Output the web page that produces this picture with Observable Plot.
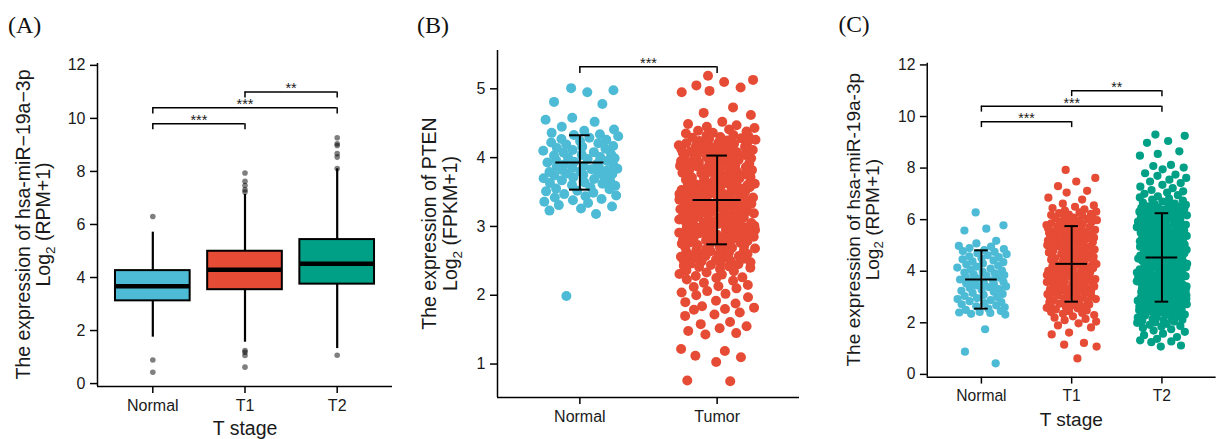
<!DOCTYPE html>
<html>
<head>
<meta charset="utf-8">
<script src="https://cdn.jsdelivr.net/npm/d3@7"></script>
<script src="https://cdn.jsdelivr.net/npm/@observablehq/plot@0.6"></script>
<style>
  html, body { margin: 0; padding: 0; background: #fff; }
  #root { position: relative; width: 1221px; height: 439px; overflow: hidden; background: #fff; }
  .panel { position: absolute; top: 0; }
</style>
</head>
<body>
<div id="root">
  <div class="panel" id="pA" style="left:0px"></div>
  <div class="panel" id="pB" style="left:400px"></div>
  <div class="panel" id="pC" style="left:810px"></div>
</div>
<script>
// ---------------- data ----------------
const stageCats = ["Normal", "T1", "T2"];
const ptenCats = ["Normal", "Tumor"];

// Panel A: boxplot summaries
const boxQ1 = [3.12, 3.54, 3.75];
const boxMedian = [3.67, 4.29, 4.52];
const boxQ3 = [4.26, 4.99, 5.43];
const whiskerLow = [1.75, 1.56, 1.32];
const whiskerHigh = [5.71, 7.13, 8.10];
const outliersNormal = [6.30, 0.89, 0.43];
const outliersT1 = [7.94, 7.63, 7.47, 7.31, 7.22, 1.25, 1.18, 1.06, 0.62];
const outliersT2 = [9.27, 9.04, 8.98, 8.67, 8.54, 8.11, 1.07];

// Significance brackets (panels A and C)
const stageBracketFrom = ["Normal", "Normal", "T1"];
const stageBracketTo = ["T1", "T2", "T2"];
const stageBracketY = [9.8, 10.4, 11.0];
const stageBracketLabel = ["***", "***", "**"];
// Panel B bracket
const ptenBracketFrom = ["Normal"];
const ptenBracketTo = ["Tumor"];
const ptenBracketY = [5.32];
const ptenBracketLabel = ["***"];

// Panel B: mean ± sd
const ptenMean = [3.93, 3.385];
const ptenSD = [0.395, 0.645];
// Panel C: mean ± sd
const stageMean = [3.68, 4.285, 4.535];
const stageSD = [1.13, 1.465, 1.715];

// Panel B points: PTEN log2(FPKM+1)
const ptenNormal = [5.01, 4.98, 4.95, 4.81, 4.78, 4.58, 4.55, 4.52, 4.45, 4.41, 4.39, 4.36, 4.34, 4.33, 4.31, 4.29, 4.27, 4.26, 4.24, 4.22, 4.21, 4.19, 4.17, 4.16, 4.14, 4.13, 4.11, 4.10, 4.08, 4.07, 4.05, 4.04, 4.03, 4.01, 4.00, 3.99, 3.98, 3.96, 3.95, 3.94, 3.93, 3.91, 3.90, 3.89, 3.88, 3.87, 3.86, 3.85, 3.84, 3.83, 3.82, 3.81, 3.80, 3.79, 3.78, 3.77, 3.76, 3.75, 3.74, 3.72, 3.71, 3.70, 3.69, 3.67, 3.66, 3.64, 3.63, 3.62, 3.60, 3.59, 3.57, 3.55, 3.54, 3.52, 3.51, 3.49, 3.47, 3.45, 3.44, 3.42, 3.40, 3.38, 3.36, 3.34, 3.31, 3.29, 3.26, 3.23, 3.18, 1.99];
const ptenTumor = [5.19, 5.13, 5.10, 5.05, 5.02, 4.97, 4.95, 4.73, 4.65, 4.62, 4.52, 4.49, 4.47, 4.45, 4.43, 4.41, 4.39, 4.38, 4.36, 4.35, 4.33, 4.32, 4.31, 4.30, 4.29, 4.28, 4.27, 4.26,
  4.25, 4.24, 4.22, 4.22, 4.21, 4.19, 4.18, 4.18, 4.16, 4.15, 4.13, 4.13, 4.12, 4.10, 4.09, 4.08, 4.08, 4.06, 4.05, 4.04, 4.02, 4.02, 4.01, 3.99, 3.98, 3.97, 3.97, 3.95, 3.94, 3.93, 3.92, 3.91, 3.90, 3.89, 3.88, 3.87, 3.86, 3.86, 3.84, 3.83, 3.82, 3.81, 3.80, 3.79, 3.78, 3.77, 3.77, 3.76, 3.74, 3.73, 3.72, 3.72, 3.71, 3.70, 3.68, 3.67, 3.67, 3.66, 3.65, 3.64, 3.63, 3.62, 3.61, 3.60, 3.60, 3.59, 3.58, 3.57, 3.56, 3.55, 3.54, 3.53, 3.53, 3.52, 3.51, 3.50, 3.49, 3.48, 3.47, 3.46, 3.46, 3.45, 3.44, 3.43, 3.42, 3.41, 3.40, 3.39, 3.39, 3.38, 3.37, 3.36, 3.35, 3.34, 3.33, 3.33, 3.32, 3.31, 3.30, 3.29, 3.28, 3.27, 3.26, 3.26, 3.25, 3.24, 3.23, 3.22, 3.21, 3.20, 3.20, 3.19, 3.18, 3.17, 3.16, 3.15, 3.14, 3.13, 3.13, 3.12, 3.11, 3.10, 3.09, 3.08, 3.07, 3.06, 3.06, 3.05, 3.04, 3.03, 3.02, 3.01, 3.00, 2.99, 2.99, 2.98, 2.97, 2.96, 2.95, 2.94, 2.93, 2.92, 2.91, 2.90, 2.89, 2.88, 2.87, 2.86, 2.85, 2.84, 2.83, 2.82, 2.81, 2.80, 2.78, 2.77, 2.76, 2.75, 2.74, 2.73, 2.72, 2.70, 2.69, 2.68, 2.67, 2.66, 2.65, 2.63, 2.62, 2.61, 2.60, 2.59, 2.57, 2.56, 2.55, 2.54, 2.52, 2.51, 2.50, 2.49, 2.47, 2.46, 2.45, 2.43, 2.42, 2.40,
  2.38, 2.36, 2.35, 2.33, 2.31, 2.30, 2.28, 2.26, 2.25, 2.23, 2.21, 2.18, 2.15, 2.13, 2.12, 2.10, 2.06, 2.04, 2.02, 2.00, 1.97, 1.92, 1.90, 1.88, 1.84, 1.82, 1.80, 1.79, 1.75, 1.72, 1.70, 1.61, 1.58, 1.55, 1.52, 1.48, 1.45, 1.43, 1.22, 1.19, 1.12, 1.10, 1.03, 0.76, 0.75,
  4.20, 4.17, 4.11, 4.07, 4.03, 3.96, 3.92, 3.88, 3.85, 3.81, 3.75, 3.71, 3.69, 3.64, 3.62, 3.58, 3.55, 3.50, 3.47, 3.44, 3.41, 3.38, 3.35, 3.32, 3.29, 3.25, 3.22, 3.19, 3.16, 3.12, 3.09, 3.05, 3.02, 2.98, 2.95, 2.91, 2.88, 2.85, 2.81, 2.79, 2.75, 2.71, 2.68, 2.64, 2.60, 2.57, 2.53, 2.48, 2.44, 2.41];

// Panel C points: hsa-miR-19a-3p log2(RPM+1)
const mirNormal = [6.28, 5.78, 5.65, 5.58, 5.18, 5.08, 4.98, 4.95, 4.90, 4.86, 4.82, 4.78, 4.75, 4.70, 4.66, 4.62, 4.58, 4.55, 4.50, 4.46, 4.42, 4.38, 4.35, 4.30, 4.27, 4.22, 4.18, 4.14, 4.10, 4.06, 4.02, 3.98, 3.95, 3.92, 3.88, 3.85, 3.82, 3.78, 3.75, 3.72, 3.68, 3.65, 3.62, 3.58, 3.55, 3.52, 3.48, 3.45, 3.41, 3.38, 3.35, 3.31, 3.28, 3.24, 3.20, 3.16, 3.12, 3.08, 3.04, 3.00, 2.96, 2.92, 2.88, 2.84, 2.80, 2.76, 2.72, 2.68, 2.64, 2.60, 2.55, 2.50, 2.46, 2.42, 2.40, 2.38, 2.35, 2.32, 1.75, 0.88, 0.43];
const mirT1 = [7.93, 7.62, 7.48, 7.30, 7.12, 7.05, 6.85, 6.78, 6.62, 6.55, 6.50, 6.45, 6.40, 6.35, 6.31, 6.28, 6.25, 6.22, 6.20,
  6.18, 6.15, 6.13, 6.10, 6.08, 6.05, 6.03, 6.00, 5.98, 5.96, 5.93, 5.91, 5.88, 5.86, 5.84, 5.81, 5.79, 5.77, 5.74, 5.72, 5.70, 5.67, 5.65, 5.63, 5.60, 5.58, 5.56, 5.53, 5.51, 5.49, 5.46, 5.44, 5.42, 5.40, 5.37, 5.35, 5.33, 5.30, 5.28, 5.26, 5.24, 5.21, 5.19, 5.17, 5.15, 5.12, 5.10, 5.08, 5.06, 5.03, 5.01, 4.99, 4.97, 4.95, 4.92, 4.90, 4.88, 4.86, 4.84, 4.81, 4.79, 4.77, 4.75, 4.73, 4.71, 4.68, 4.66, 4.64, 4.62, 4.60, 4.58, 4.56, 4.53, 4.51, 4.49, 4.47, 4.45, 4.43, 4.41, 4.39, 4.37, 4.35, 4.32, 4.30, 4.28, 4.26, 4.24, 4.22, 4.20, 4.18, 4.16, 4.14, 4.12, 4.10, 4.08, 4.06, 4.04, 4.01, 3.99, 3.97, 3.95, 3.93, 3.91, 3.89, 3.87, 3.85, 3.83, 3.81, 3.79, 3.77, 3.75, 3.73, 3.71, 3.69, 3.66, 3.64, 3.62, 3.60, 3.58, 3.56, 3.54, 3.52, 3.49, 3.47, 3.45, 3.43, 3.41, 3.38, 3.36, 3.34, 3.32, 3.30, 3.27, 3.25, 3.23, 3.20, 3.18, 3.16, 3.13, 3.11, 3.09, 3.06, 3.04, 3.01, 2.99, 2.97, 2.94, 2.92, 2.89, 2.87, 2.84, 2.82, 2.79, 2.77, 2.74, 2.71, 2.69, 2.66, 2.64, 2.61, 2.58, 2.56,
  2.52, 2.48, 2.45, 2.42, 2.38, 2.35, 2.30, 2.25, 2.20, 2.15, 2.10, 2.05, 1.98, 1.90, 1.82, 1.62, 1.55, 1.22, 1.15, 1.08, 0.62];
const mirT2 = [9.30, 9.25, 9.05, 8.98, 8.65, 8.55, 8.48, 8.12, 8.08, 8.02, 7.95, 7.80, 7.75, 7.70, 7.62, 7.55, 7.48, 7.42, 7.35, 7.28, 7.22, 7.15, 7.10, 7.05, 7.00, 6.95, 6.90, 6.86, 6.82, 6.78, 6.74, 6.70, 6.66, 6.62,
  6.60, 6.57, 6.55, 6.52, 6.50, 6.47, 6.45, 6.42, 6.40, 6.38, 6.35, 6.33, 6.31, 6.28, 6.26, 6.24, 6.21, 6.19, 6.17, 6.15, 6.12, 6.10, 6.08, 6.06, 6.03, 6.01, 5.99, 5.97, 5.95, 5.92, 5.90, 5.88, 5.86, 5.84, 5.82, 5.80, 5.77, 5.75, 5.73, 5.71, 5.69, 5.67, 5.65, 5.63, 5.61, 5.59, 5.57, 5.55, 5.53, 5.51, 5.49, 5.47, 5.45, 5.43, 5.41, 5.39, 5.37, 5.35, 5.33, 5.31, 5.29, 5.27, 5.25, 5.23, 5.21, 5.19, 5.17, 5.15, 5.13, 5.11, 5.09, 5.07, 5.05, 5.03, 5.01, 4.99, 4.97, 4.95, 4.93, 4.91, 4.89, 4.87, 4.85, 4.83, 4.81, 4.79, 4.77, 4.75, 4.73, 4.71, 4.69, 4.67, 4.65, 4.63, 4.61, 4.59, 4.57, 4.55, 4.53, 4.51, 4.49, 4.47, 4.45, 4.43, 4.41, 4.39, 4.37, 4.35, 4.33, 4.31, 4.29, 4.27, 4.25, 4.23, 4.21, 4.19, 4.17, 4.15, 4.13, 4.11, 4.09, 4.07, 4.05, 4.03, 4.01, 3.99, 3.97, 3.95, 3.93, 3.91, 3.89, 3.87, 3.85, 3.83, 3.81, 3.79, 3.77, 3.75, 3.73, 3.71, 3.69, 3.67, 3.65, 3.63, 3.61, 3.59, 3.57, 3.55, 3.53, 3.51, 3.49, 3.47, 3.45, 3.43, 3.41, 3.39, 3.37, 3.35, 3.33, 3.31, 3.29, 3.27, 3.25, 3.23, 3.21, 3.19, 3.17, 3.15, 3.13, 3.11, 3.09, 3.07, 3.05, 3.03, 3.01, 2.99, 2.97, 2.95, 2.93, 2.91, 2.89, 2.87, 2.85, 2.83, 2.81, 2.79, 2.76, 2.74, 2.72, 2.70, 2.68, 2.65, 2.63, 2.61, 2.58, 2.56, 2.54, 2.51, 2.49, 2.46, 2.44, 2.41, 2.39, 2.36, 2.34, 2.31, 2.28, 2.26, 2.23, 2.20,
  2.18, 2.15, 2.12, 2.10, 2.08, 2.05, 2.02, 2.00, 1.96, 1.92, 1.88, 1.85, 1.80, 1.75, 1.70, 1.65, 1.58, 1.52, 1.45, 1.38, 1.32, 1.28, 1.25, 1.12, 1.08,
  6.46, 6.37, 6.25, 6.18, 6.07, 5.98, 5.91, 5.81, 5.74, 5.64, 5.58, 5.48, 5.42, 5.32, 5.26, 5.16, 5.08, 5.02, 4.92, 4.86, 4.76, 4.70, 4.60, 4.54, 4.44, 4.36, 4.30, 4.20, 4.14, 4.04, 3.98, 3.88, 3.80, 3.74, 3.64, 3.58, 3.48, 3.42, 3.32, 3.24, 3.18, 3.08, 3.02, 2.92, 2.86, 2.78, 2.69, 2.62, 2.52, 2.43, 2.32];

// Text
const panelTags = ["(A)", "(B)", "(C)"];
const yTitleStage = ["The expression of hsa-miR\u221219a\u22123p", "The expression of PTEN", "The expression of hsa-miR-19a-3p"];
const yTitleUnit = [" (RPM+1)", " (FPKM+1)", " (RPM+1)"];
const xTitleStage = "T stage";

// ---------------- style ----------------
const stageColors = ["#4DBBD5", "#E64B35", "#00A087"];
const ptenColors = ["#4DBBD5", "#E64B35"];
const SANS = "'Liberation Sans', Arial, Helvetica, sans-serif";
const SERIF = "'Liberation Serif', 'Times New Roman', serif";
const INK = "#1a1a1a";
const JITTER = 0.28;
const BOX_HALF = 0.405;
const MEAN_HALF = 0.175;
const CAP_HALF = 0.075;

// deterministic horizontal jitter (presentation only): low-discrepancy by value rank, small perturbation
function jitterRows(values, i) {
  const order = d3.range(values.length).sort((a, b) => values[b] - values[a]);
  const rank = new Array(values.length);
  order.forEach((idx, r) => { rank[idx] = r; });
  return values.map((v, k) => {
    const r = rank[k];
    const h = Math.sin(r * 127.1 + i * 311.7 + 0.5) * 43758.5453;
    const u = ((r + 0.5) * 0.6180339887 + 0.08 * (h - Math.floor(h))) % 1;
    return {x: i + (u - 0.5) * 2 * JITTER, y: v};
  });
}

function bracketMarks(cats, from, to, ys, labels, drop) {
  const rows = ys.map((y, k) => ({a: cats.indexOf(from[k]), b: cats.indexOf(to[k]), y, label: labels[k]}));
  return [
    Plot.ruleY(rows, {x1: "a", x2: "b", y: "y", stroke: "#000", strokeWidth: 1.5}),
    Plot.ruleX(rows, {x: "a", y1: d => d.y - drop, y2: "y", stroke: "#000", strokeWidth: 1.5}),
    Plot.ruleX(rows, {x: "b", y1: d => d.y - drop, y2: "y", stroke: "#000", strokeWidth: 1.5}),
    Plot.text(rows, {x: d => (d.a + d.b) / 2, y: "y", text: "label", lineAnchor: "bottom", dy: 1.5, fontSize: 14.5, fill: INK, fontFamily: SANS})
  ];
}

function errorMarks(means, sds) {
  const rows = means.map((m, i) => ({i, m, s: sds[i]}));
  return [
    Plot.ruleX(rows, {x: "i", y1: d => d.m - d.s, y2: d => d.m + d.s, stroke: "#000", strokeWidth: 2}),
    Plot.ruleY(rows, {x1: d => d.i - MEAN_HALF, x2: d => d.i + MEAN_HALF, y: "m", stroke: "#000", strokeWidth: 2}),
    Plot.ruleY(rows, {x1: d => d.i - CAP_HALF, x2: d => d.i + CAP_HALF, y: d => d.m + d.s, stroke: "#000", strokeWidth: 2}),
    Plot.ruleY(rows, {x1: d => d.i - CAP_HALF, x2: d => d.i + CAP_HALF, y: d => d.m - d.s, stroke: "#000", strokeWidth: 2})
  ];
}

function basePlot({width, height, margins, cats, yDomain, yTicks, marks}) {
  const [mt, mr, mb, ml] = margins;
  return Plot.plot({
    width, height,
    marginTop: mt, marginRight: mr, marginBottom: mb, marginLeft: ml,
    x: {type: "linear", domain: [-0.6, cats.length - 0.4]},
    y: {type: "linear", domain: yDomain},
    color: {type: "identity"},
    style: {fontFamily: SANS, color: INK, background: "transparent", overflow: "visible"},
    marks: [
      ...marks,
      Plot.ruleX([-0.6], {stroke: "#000", strokeWidth: 1.5}),
      Plot.ruleY([yDomain[0]], {stroke: "#000", strokeWidth: 1.5}),
      Plot.axisX({ticks: cats.map((c, i) => i), tickFormat: i => cats[i], tickSize: 7, tickPadding: 6, fontSize: 16, strokeWidth: 1.5, stroke: "#000", fill: INK, label: null}),
      Plot.axisY({ticks: yTicks, tickFormat: d => String(d), tickSize: 7, tickPadding: 5, fontSize: 16, strokeWidth: 1.5, stroke: "#000", fill: INK, label: null})
    ]
  });
}

function decorate(svg, {tag, tagX, t1, t1x, t2unit, t2x, cy, xTitle, xTitleX}) {
  const s = d3.select(svg);
  s.append("text").attr("x", tagX).attr("y", 33).attr("text-anchor", "start")
    .attr("font-family", SERIF).attr("font-size", 24).attr("fill", "#111").text(tag);
  s.append("text").attr("transform", `translate(${t1x},${cy}) rotate(-90)`).attr("text-anchor", "middle")
    .attr("font-family", SANS).attr("font-size", 19.5).attr("fill", INK).text(t1);
  const t = s.append("text").attr("transform", `translate(${t2x},${cy}) rotate(-90)`).attr("text-anchor", "middle")
    .attr("font-family", SANS).attr("font-size", 19.5).attr("fill", INK);
  t.append("tspan").text("Log");
  t.append("tspan").attr("font-size", 13.5).attr("dy", 5).text("2");
  t.append("tspan").attr("dy", -5).text(t2unit);
  if (xTitle) {
    s.append("text").attr("x", xTitleX).attr("y", 435).attr("text-anchor", "middle")
      .attr("font-family", SANS).attr("font-size", 19.5).attr("fill", INK).text(xTitle);
  }
}

// ---------------- Panel A ----------------
const boxRows = stageCats.map((c, i) => ({i, q1: boxQ1[i], med: boxMedian[i], q3: boxQ3[i], lo: whiskerLow[i], hi: whiskerHigh[i], color: stageColors[i]}));
const outlierRows = [outliersNormal, outliersT1, outliersT2].flatMap((arr, i) => arr.map(v => ({i, v})));
const plotA = basePlot({
  width: 400, height: 439, margins: [63, 8, 53, 97], cats: stageCats,
  yDomain: [-0.11, 12.07], yTicks: [0, 2, 4, 6, 8, 10, 12],
  marks: [
    Plot.ruleX(boxRows, {x: "i", y1: "q3", y2: "hi", stroke: "#000", strokeWidth: 2.2}),
    Plot.ruleX(boxRows, {x: "i", y1: "lo", y2: "q1", stroke: "#000", strokeWidth: 2.2}),
    Plot.dot(outlierRows, {x: "i", y: "v", r: 2.8, fill: "#000", fillOpacity: 0.5, stroke: "none"}),
    Plot.rect(boxRows, {x1: d => d.i - BOX_HALF, x2: d => d.i + BOX_HALF, y1: "q1", y2: "q3", fill: "color", stroke: "#000", strokeWidth: 2}),
    Plot.ruleY(boxRows, {x1: d => d.i - BOX_HALF, x2: d => d.i + BOX_HALF, y: "med", stroke: "#000", strokeWidth: 4.5}),
    ...bracketMarks(stageCats, stageBracketFrom, stageBracketTo, stageBracketY, stageBracketLabel, 0.23)
  ]
});
decorate(plotA, {tag: panelTags[0], tagX: 8, t1: yTitleStage[0], t1x: 30, t2unit: yTitleUnit[0], t2x: 50, cy: 224.5, xTitle: xTitleStage, xTitleX: 245});
document.getElementById("pA").appendChild(plotA);

// ---------------- Panel B ----------------
const plotB = basePlot({
  width: 410, height: 439, margins: [50, 11, 42, 97], cats: ptenCats,
  yDomain: [0.514, 5.557], yTicks: [1, 2, 3, 4, 5],
  marks: [
    Plot.dot(jitterRows(ptenNormal, 0), {x: "x", y: "y", r: 5, fill: ptenColors[0], stroke: "none"}),
    Plot.dot(jitterRows(ptenTumor, 1), {x: "x", y: "y", r: 5, fill: ptenColors[1], stroke: "none"}),
    ...errorMarks(ptenMean, ptenSD),
    ...bracketMarks(ptenCats, ptenBracketFrom, ptenBracketTo, ptenBracketY, ptenBracketLabel, 0.097)
  ]
});
decorate(plotB, {tag: panelTags[1], tagX: 17, t1: yTitleStage[1], t1x: 36, t2unit: yTitleUnit[1], t2x: 57, cy: 223.5, xTitle: null});
document.getElementById("pB").appendChild(plotB);

// ---------------- Panel C ----------------
const plotC = basePlot({
  width: 420, height: 439, margins: [64, 5.5, 54, 119.3], cats: stageCats,
  yDomain: [-0.11, 12.07], yTicks: [0, 2, 4, 6, 8, 10, 12],
  marks: [
    Plot.dot(jitterRows(mirNormal, 0), {x: "x", y: "y", r: 4.2, fill: stageColors[0], stroke: "none"}),
    Plot.dot(jitterRows(mirT1, 1), {x: "x", y: "y", r: 4.2, fill: stageColors[1], stroke: "none"}),
    Plot.dot(jitterRows(mirT2, 2), {x: "x", y: "y", r: 4.2, fill: stageColors[2], stroke: "none"}),
    ...errorMarks(stageMean, stageSD),
    ...bracketMarks(stageCats, stageBracketFrom, stageBracketTo, stageBracketY, stageBracketLabel, 0.23)
  ]
});
decorate(plotC, {tag: panelTags[2], tagX: 29, t1: yTitleStage[2], t1x: 51, t2unit: yTitleUnit[2], t2x: 70, cy: 224.5, xTitle: xTitleStage, xTitleX: 267});
document.getElementById("pC").appendChild(plotC);
</script>
</body>
</html>
